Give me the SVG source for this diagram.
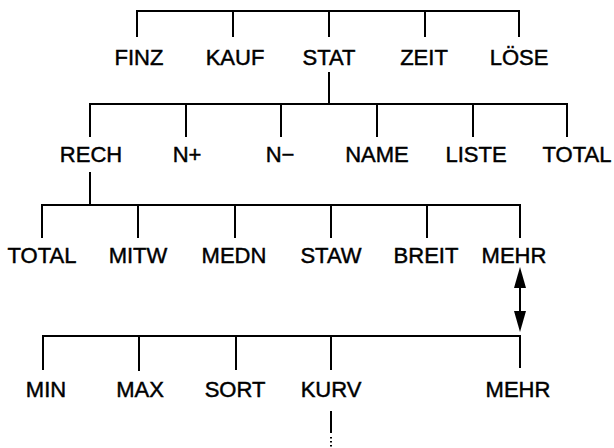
<svg xmlns="http://www.w3.org/2000/svg" width="614" height="448" viewBox="0 0 614 448">
<style>
  .c { fill: none; stroke: #000; stroke-width: 2; stroke-linecap: square; }
  .a { fill: none; stroke: #000; stroke-width: 2; }
  .d { fill: none; stroke: #000; stroke-width: 2; stroke-dasharray: 1.5 2.5; }
  text { font-family: "Liberation Sans", Arial, sans-serif; font-size: 22px; fill: #000; stroke: #000; stroke-width: 0.45; text-anchor: middle; }
</style>
<g id="connectors">
  <path class="c" d="M137,36 V11 H519 V36 M233,11 V36 M329,11 V36 M425,11 V36"/>
  <path class="c" d="M329,73 V104"/>
  <path class="c" d="M90,136 V104 H567 V136 M186,104 V136 M281,104 V136 M377,104 V136 M473,104 V136"/>
  <path class="c" d="M90,173 V205"/>
  <path class="c" d="M42,237 V205 H520 V237 M138,205 V237 M235,205 V237 M331,205 V237 M427,205 V237"/>
  <line class="a" x1="520" y1="287" x2="520" y2="312"/>
  <polygon points="520,267 514,288 526,288" fill="#000"/>
  <polygon points="520,332 514,311 526,311" fill="#000"/>
  <path class="c" d="M43,369 V336 H520 V367 M139,336 V370 M236,336 V369 M331,336 V369"/>
  <path class="c" d="M331,412 V432"/>
  <path class="d" d="M331,437 V448"/>
</g>
<g id="n-finz"><text x="139" y="65">FINZ</text></g>
<g id="n-kauf"><text x="235" y="65">KAUF</text></g>
<g id="n-stat"><text x="329" y="65">STAT</text></g>
<g id="n-zeit"><text x="424" y="65">ZEIT</text></g>
<g id="n-loese"><text x="519" y="65">LÖSE</text></g>
<g id="n-rech"><text x="91" y="162">RECH</text></g>
<g id="n-nplus"><text x="187" y="162">N+</text></g>
<g id="n-nminus"><text x="280" y="162">N−</text></g>
<g id="n-name"><text x="377" y="162">NAME</text></g>
<g id="n-liste"><text x="476" y="162">LISTE</text></g>
<g id="n-total1"><text x="577" y="162">TOTAL</text></g>
<g id="n-total2"><text x="42" y="263">TOTAL</text></g>
<g id="n-mitw"><text x="138" y="263">MITW</text></g>
<g id="n-medn"><text x="234" y="263">MEDN</text></g>
<g id="n-staw"><text x="331" y="263">STAW</text></g>
<g id="n-breit"><text x="426" y="263">BREIT</text></g>
<g id="n-mehr1"><text x="514" y="263">MEHR</text></g>
<g id="n-min"><text x="46" y="397">MIN</text></g>
<g id="n-max"><text x="140" y="397">MAX</text></g>
<g id="n-sort"><text x="235" y="397">SORT</text></g>
<g id="n-kurv"><text x="331" y="397">KURV</text></g>
<g id="n-mehr2"><text x="518" y="397">MEHR</text></g>
</svg>
